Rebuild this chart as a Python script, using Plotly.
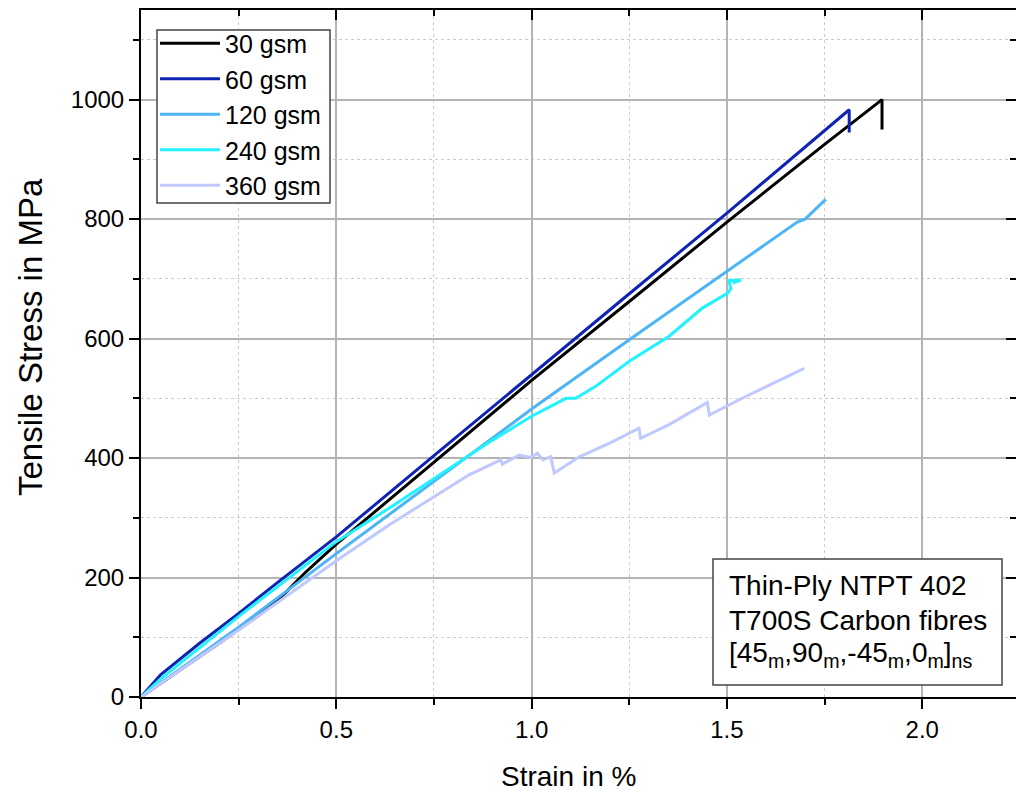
import plotly.graph_objects as go

# ---- data ----
strain_30 = [0, 0.05, 0.1, 0.2, 0.3, 0.36, 0.42, 0.5, 0.75, 1.0, 1.25, 1.5, 1.75, 1.897, 1.897]
stress_30 = [0, 22, 45, 90, 136, 168, 208, 256, 393, 530, 662, 795, 925, 1000, 950]

strain_60 = [0, 0.02, 0.05, 0.15, 0.25, 0.35, 0.42, 0.5, 0.75, 1.0, 1.25, 1.5, 1.7, 1.813, 1.813]
stress_60 = [0, 15, 37, 90, 140, 192, 228, 268, 404, 540, 675, 810, 920, 983, 945]

strain_120 = [0, 0.25, 0.5, 0.635, 0.84, 1.0, 1.25, 1.5, 1.61, 1.68, 1.70, 1.753]
stress_120 = [0, 117, 240, 305, 405, 482, 598, 712, 762, 795, 800, 833]

strain_240 = [0, 0.05, 0.25, 0.5, 0.635, 0.84, 0.9, 1.0, 1.088, 1.113, 1.164, 1.25, 1.352, 1.437,
              1.502, 1.51, 1.505, 1.536, 1.515]
stress_240 = [0, 30, 135, 260, 316, 405, 430, 470, 500, 500, 520, 562, 604, 651,
              676, 684, 697, 698, 693]

strain_360 = [0, 0.25, 0.5, 0.635, 0.84, 0.921, 0.925, 0.968, 0.998, 1.015, 1.028, 1.049, 1.058,
              1.122, 1.2, 1.267, 1.275, 1.279, 1.352, 1.45, 1.455, 1.548, 1.62, 1.698]
stress_360 = [0, 112, 228, 288, 372, 397, 390, 405, 401, 408, 397, 402, 375,
              402, 425, 447, 450, 433, 456, 493, 472, 503, 525, 550]

series_names = ["30 gsm", "60 gsm", "120 gsm", "240 gsm", "360 gsm"]
series_x = [strain_30, strain_60, strain_120, strain_240, strain_360]
series_y = [stress_30, stress_60, stress_120, stress_240, stress_360]
colors = ["#000000", "#0F23B4", "#4DB5F5", "#22F2FF", "#BFC8FF"]

x_ticks = [0.0, 0.5, 1.0, 1.5, 2.0]
y_ticks = [0, 200, 400, 600, 800, 1000]

FONT = "Liberation Sans, Arial, sans-serif"

W, H = 1016, 798
ML, MT, MB, MR = 141, 10, 101, 0
PW = W - ML - MR
PH = H - MT - MB


def px_x(p):  # page pixel -> paper x
    return (p - ML) / PW


def px_y(p):  # page pixel -> paper y
    return 1 - (p - MT) / PH


fig = go.Figure()
for name, xs, ys, c in zip(series_names, series_x, series_y, colors):
    fig.add_trace(go.Scatter(x=xs, y=ys, mode="lines", name=name,
                             line=dict(color=c, width=3)))
# dummy trace for the mirrored (inside-tick) top/right axes
fig.add_trace(go.Scatter(x=[None], y=[None], xaxis="x2", yaxis="y2", showlegend=False, hoverinfo="skip"))

common = dict(showline=True, linecolor="black", linewidth=2, zeroline=False)

fig.update_layout(
    width=W, height=H,
    margin=dict(l=ML, r=MR, t=MT, b=MB),
    plot_bgcolor="white", paper_bgcolor="white",
    font=dict(family=FONT, color="black", size=24),
    showlegend=True,
    legend=dict(x=px_x(155), y=px_y(20.5), xanchor="left", yanchor="top",
                borderwidth=0, bgcolor="rgba(0,0,0,0)",
                font=dict(size=25), itemwidth=60),
    xaxis=dict(range=[0, 2.24], tickvals=x_ticks, tickformat=".1f",
               ticks="outside", ticklen=10, tickwidth=2, tickcolor="black",
               showgrid=True, gridcolor="#b4b4b4", gridwidth=1.5,
               minor=dict(dtick=0.25, tick0=0, ticks="outside", ticklen=6, tickwidth=2,
                          tickcolor="black", showgrid=True, gridcolor="#cccccc",
                          griddash="dot", gridwidth=1),
               tickfont=dict(size=24), **common),
    yaxis=dict(range=[0, 1150], tickvals=y_ticks,
               ticks="outside", ticklen=10, tickwidth=2, tickcolor="black",
               showgrid=True, gridcolor="#b4b4b4", gridwidth=1.5,
               minor=dict(dtick=100, tick0=0, ticks="outside", ticklen=6, tickwidth=2,
                          tickcolor="black", showgrid=True, gridcolor="#cccccc",
                          griddash="dot", gridwidth=1),
               tickfont=dict(size=24), **common),
    xaxis2=dict(overlaying="x", side="top", range=[0, 2.24], tickvals=x_ticks,
                showticklabels=False, ticks="inside", ticklen=10, tickwidth=2, tickcolor="black",
                showgrid=False,
                minor=dict(dtick=0.25, tick0=0, ticks="inside", ticklen=6, tickwidth=2,
                           tickcolor="black", showgrid=False),
                **common),
    yaxis2=dict(overlaying="y", side="right", range=[0, 1150], tickvals=y_ticks,
                showticklabels=False, ticks="inside", ticklen=10, tickwidth=2, tickcolor="black",
                showgrid=False,
                minor=dict(dtick=100, tick0=0, ticks="inside", ticklen=6, tickwidth=2,
                           tickcolor="black", showgrid=False),
                **common),
)

# axis titles
fig.add_annotation(text="Strain in %", xref="paper", yref="paper", x=px_x(568), y=px_y(777),
                   xanchor="center", yanchor="middle", showarrow=False,
                   font=dict(size=28, family=FONT, color="black"))
fig.add_annotation(text="Tensile Stress in MPa", xref="paper", yref="paper", x=px_x(30), y=px_y(337),
                   xanchor="center", yanchor="middle", showarrow=False, textangle=-90,
                   font=dict(size=33, family=FONT, color="black"))

# legend frame
fig.add_shape(type="rect", xref="paper", yref="paper",
              x0=px_x(157), x1=px_x(330), y0=px_y(203), y1=px_y(30),
              line=dict(color="#444444", width=1.5), fillcolor="white", layer="above")

# info box
fig.add_shape(type="rect", xref="paper", yref="paper",
              x0=px_x(713), x1=px_x(1002), y0=px_y(685), y1=px_y(559),
              line=dict(color="#444444", width=1.5), fillcolor="white", layer="above")
box_lines = ["Thin-Ply NTPT 402", "T700S Carbon fibres",
             "[45<sub>m</sub>,90<sub>m</sub>,-45<sub>m</sub>,0<sub>m</sub>]<sub>ns</sub>"]
box_y_px = [585, 620, 654]
for txt, ypx in zip(box_lines, box_y_px):
    fig.add_annotation(text=txt, xref="paper", yref="paper",
                       x=px_x(727), y=px_y(ypx),
                       xanchor="left", yanchor="middle", showarrow=False,
                       font=dict(size=28, family=FONT, color="black"))

fig.write_html("out.html",
               config={"displayModeBar": False},
               post_script="document.body.style.margin='0px';"
                           "document.body.style.overflow='hidden';"
                           "document.documentElement.style.overflow='hidden';")
